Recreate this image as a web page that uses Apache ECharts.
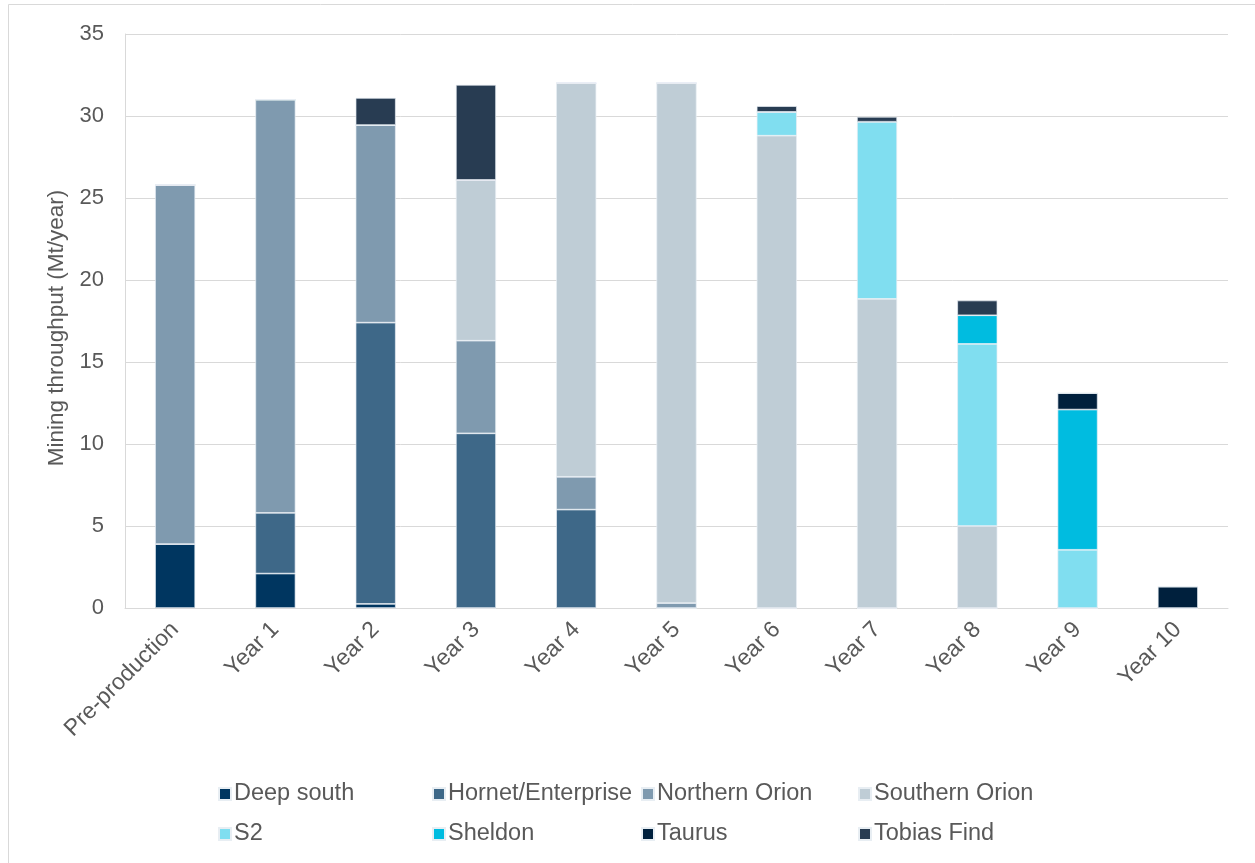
<!DOCTYPE html>
<html><head><meta charset="utf-8">
<script src="https://cdn.jsdelivr.net/npm/echarts@6/dist/echarts.min.js"></script>
<style>html,body{margin:0;padding:0;background:#fff}#c{width:1255px;height:863px}</style>
</head><body><div id="c"></div>
<script>
const categories = ['Pre-production','Year 1','Year 2','Year 3','Year 4','Year 5','Year 6','Year 7','Year 8','Year 9','Year 10'];
const seriesNames = ['Deep south','Hornet/Enterprise','Northern Orion','Southern Orion','S2','Sheldon','Taurus','Tobias Find'];
const deepSouth      = [3.9, 2.1, 0.25, 0, 0, 0, 0, 0, 0, 0, 0];
const hornet         = [0, 3.7, 17.15, 10.65, 6.0, 0, 0, 0, 0, 0, 0];
const northernOrion  = [21.9, 25.2, 12.05, 5.65, 2.0, 0.3, 0, 0, 0, 0, 0];
const southernOrion  = [0, 0, 0, 9.8, 24.0, 31.7, 28.8, 18.85, 5.0, 0, 0];
const s2             = [0, 0, 0, 0, 0, 0, 1.45, 10.8, 11.1, 3.55, 0];
const sheldon        = [0, 0, 0, 0, 0, 0, 0, 0, 1.75, 8.55, 0];
const taurus         = [0, 0, 0, 0, 0, 0, 0, 0, 0, 1.0, 1.3];
const tobiasFind     = [0, 0, 1.65, 5.8, 0, 0, 0.35, 0.3, 0.9, 0, 0];
const yTicks = [0, 5, 10, 15, 20, 25, 30, 35];

const values = [deepSouth, hornet, northernOrion, southernOrion, s2, sheldon, taurus, tobiasFind];
const colors = ['#003660','#3E6888','#7F9AAF','#BFCDD6','#80DEF0','#00BCE0','#00203D','#283C52'];

const chart = echarts.init(document.getElementById('c'), null, {renderer:'canvas'});
const font = 'Liberation Sans, Arial, sans-serif';
const legendLeft = [218, 432, 641, 858];
const legendTop = [782, 822];
const legends = seriesNames.map((n, i) => ({
  data: [n], left: legendLeft[i % 4], top: legendTop[Math.floor(i / 4)], padding: 0,
  itemWidth: 12, itemHeight: 12, icon: 'rect', itemGap: 4,
  textStyle: {fontFamily: font, fontSize: 23.5, color: '#595959', padding: [0,0,0,-2]}
}));
chart.setOption({
  animation: false,
  backgroundColor: '#fff',
  color: colors,
  graphic: [{type:'rect', shape:{x:8.5, y:4.5, width:1260, height:880}, style:{fill:'none', stroke:'#D9D9D9', lineWidth:1}, silent:true}],
  grid: {left: 125, right: 27, top: 34, bottom: 255, containLabel: false},
  legend: legends,
  xAxis: {
    type: 'category', data: categories,
    axisLine: {lineStyle: {color: '#D9D9D9', width: 1}},
    axisTick: {show: false},
    axisLabel: {rotate: 45, fontFamily: font, fontSize: 23, color: '#595959', margin: 18}
  },
  yAxis: {
    type: 'value', min: yTicks[0], max: yTicks[yTicks.length-1], interval: 5,
    name: 'Mining throughput (Mt/year)', nameLocation: 'middle', nameGap: 56, nameRotate: 90,
    nameTextStyle: {fontFamily: font, fontSize: 22.5, color: '#595959', padding: [0, 14, 0, 0]},
    axisLine: {show: true, lineStyle: {color: '#D9D9D9'}},
    axisTick: {show: false},
    axisLabel: {fontFamily: font, fontSize: 22, color: '#595959', margin: 21},
    splitLine: {lineStyle: {color: '#D9D9D9', width: 1}}
  },
  series: seriesNames.map((n, i) => ({
    name: n, type: 'bar', stack: 'total', data: values[i], barWidth: '40%',
    itemStyle: {color: colors[i], borderColor: '#E8EEF3', borderWidth: 0.7}
  }))
});
</script></body></html>
